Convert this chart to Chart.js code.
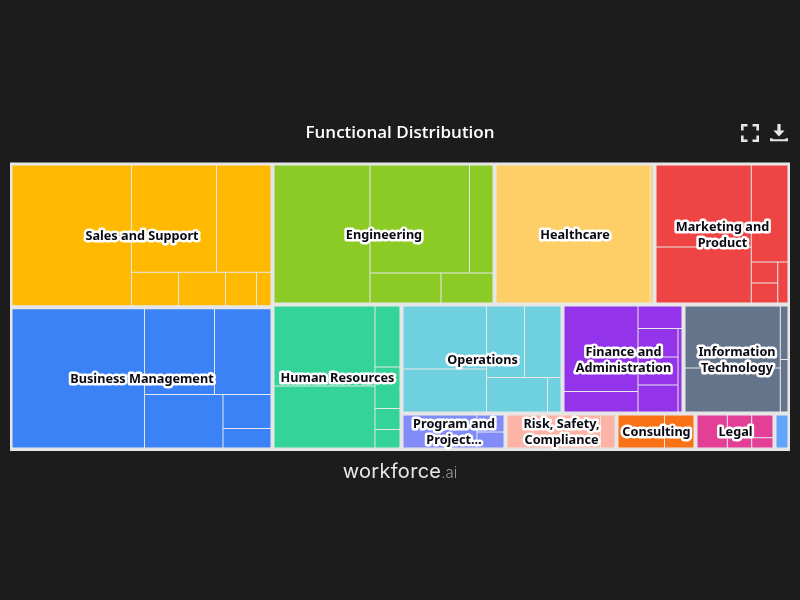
<!DOCTYPE html>
<html>
<head>
<meta charset="utf-8">
<title>Functional Distribution</title>
<script src="https://cdn.jsdelivr.net/npm/chart.js@4/dist/chart.umd.js"></script>
<style>
  html, body { margin: 0; padding: 0; background: #1c1c1c; overflow: hidden; }
  #wrap { position: relative; width: 800px; height: 600px; }
  canvas { display: block; }
  .icon { position: absolute; top: 124px; width: 18px; height: 18px; }
  #logo { position: absolute; left: 0; width: 800px; top: 459px; text-align: center; color: #e8e8e8;
          font: 400 20px Inter, sans-serif; letter-spacing: 0.3px; }
  #logo span { color: #9a9a9a; font-size: 15px; font-weight: 300; letter-spacing: 0; }
</style>
</head>
<body>
<div id="wrap">
  <canvas id="chart" width="800" height="600"></canvas>
  <svg class="icon" style="left:741px" viewBox="0 0 18 18" fill="none" stroke="#e6e6e6" stroke-width="2.6">
    <path d="M6.5 1.3H1.3V6.5M11.5 1.3H16.7V6.5M1.3 11.5V16.7H6.5M16.7 11.5V16.7H11.5"/>
  </svg>
  <svg class="icon" style="left:770px" viewBox="0 0 18 18" fill="#e6e6e6">
    <path d="M7.4 0H10.6V6.5H14.6L9 12.4L3.4 6.5H7.4Z"/>
    <path d="M0 14.2H2.6V15.2H15.4V14.2H18V17.2H0Z"/>
  </svg>
  <div id="logo">workforce<span>.ai</span></div>
</div>
<script>
// データ（画像から読み取った推定値）
const titleText = 'Functional Distribution';
const groupNames = ['Sales and Support', 'Business Management', 'Engineering', 'Healthcare',
    'Marketing and Product', 'Human Resources', 'Operations', 'Finance and Administration',
    'Information Technology', 'Program and Project...', 'Risk, Safety, Compliance',
    'Consulting', 'Legal', 'Other'];
const groupLabelLines = [['Sales and Support'], ['Business Management'], ['Engineering'], ['Healthcare'],
    ['Marketing and', 'Product'], ['Human Resources'], ['Operations'], ['Finance and', 'Administration'],
    ['Information', 'Technology'], ['Program and', 'Project...'], ['Risk, Safety,', 'Compliance'],
    ['Consulting'], ['Legal'], []];

const salesValues = [17376, 9423, 6042, 1624, 1624, 1071, 501];
const businessValues = [19067, 6210, 5012, 4332, 1683, 966];
const engineeringValues = [13721, 11130, 2629, 2206, 1616];
const healthcareValues = [22171, 389];
const marketingValues = [8159, 5572, 3728, 583, 555, 438];
const hrValues = [8447, 6546, 1594, 1085, 549, 484];
const operationsValues = [5512, 3762, 2847, 2735, 2206, 488];
const financeValues = [6672, 1600, 1044, 1202, 1181, 1139, 352];
const itValues = [6251, 4436, 437, 429];
const programValues = [2743, 516, 485];
const riskValues = [3460, 536];
const consultingValues = [1740, 1104];
const legalValues = [1134, 913, 548, 249];
const otherValues = [540];

const groupValues = [salesValues, businessValues, engineeringValues, healthcareValues,
    marketingValues, hrValues, operationsValues, financeValues, itValues,
    programValues, riskValues, consultingValues, legalValues, otherValues];

// 色
const groupColors = ['#ffb900', '#3b82f6', '#8ccb26', '#fecf66', '#ef4444', '#34d399', '#6fd0e0',
    '#9333ea', '#64748b', '#818cf8', '#fdb3a6', '#f97316', '#e43f96', '#60a5fa'];

// 分割の手順: c = 左から列, r = 上から行, 数字 = その中のセル数
const groupPlan = ['c2', 'r3', 'c1', 'r3', 'r5'];
const cellPlans = [
    ['c1', 'r2', 'r4'],
    ['c1', 'r2', 'c1', 'c2'],
    ['c1', 'r2', 'r2'],
    ['c1', 'c1'],
    ['c2', 'r1', 'c2', 'c1'],
    ['c2', 'c4'],
    ['c2', 'r2', 'r2'],
    ['c2', 'r1', 'c3', 'c1'],
    ['c2', 'c2'],
    ['c1', 'c2'],
    ['c1', 'c1'],
    ['c1', 'c1'],
    ['c1', 'c1', 'c2'],
    ['c1']
];

const plotWidth = 779;
const plotHeight = 286;
const groupInset = 1.5;

function sum(list) {
    return list.reduce((a, b) => a + b, 0);
}

// 値の比率で長方形を順番に切り出す
function sliceBox(values, plan, box) {
    let { x0, y0, x1, y1 } = box;
    let rest = sum(values);
    let index = 0;
    const cells = [];
    plan.forEach(step => {
        const count = Number(step.slice(1));
        const items = values.slice(index, index + count);
        const total = sum(items);
        const share = total / rest;
        if (step[0] === 'c') {
            const w = (x1 - x0) * share;
            let y = y0;
            items.forEach(v => {
                const h = (y1 - y0) * v / total;
                cells.push({ x0: x0, x1: x0 + w, y0: y, y1: y + h, v: v });
                y += h;
            });
            x0 += w;
        } else {
            const h = (y1 - y0) * share;
            let x = x0;
            items.forEach(v => {
                const w = (x1 - x0) * v / total;
                cells.push({ x0: x, x1: x + w, y0: y0, y1: y0 + h, v: v });
                x += w;
            });
            y0 += h;
        }
        rest -= total;
        index += count;
    });
    return cells;
}

const groupBoxes = sliceBox(groupValues.map(sum), groupPlan, { x0: 0, y0: 0, x1: plotWidth, y1: plotHeight });

const datasets = groupNames.map((name, i) => {
    const b = groupBoxes[i];
    return {
        label: name,
        parsing: false,
        data: sliceBox(groupValues[i], cellPlans[i], {
            x0: b.x0 + groupInset, y0: b.y0 + groupInset, x1: b.x1 - groupInset, y1: b.y1 - groupInset
        }),
        backgroundColor: groupColors[i],
        borderColor: 'rgba(238, 238, 238, 0.55)',
        borderWidth: 0.5
    };
});

// Chart.js にツリーマップがないので BarElement で長方形を描くコントローラを用意
class TreemapController extends Chart.DatasetController {
    update(mode) {
        const meta = this._cachedMeta;
        this.updateElements(meta.data, 0, meta.data.length, mode);
    }
    updateElements(cells, start, count, mode) {
        const { xScale, yScale } = this._cachedMeta;
        const data = this.getDataset().data;
        for (let i = start; i < start + count; i++) {
            const left = xScale.getPixelForValue(data[i].x0);
            const right = xScale.getPixelForValue(data[i].x1);
            const top = yScale.getPixelForValue(data[i].y0);
            const bottom = yScale.getPixelForValue(data[i].y1);
            this.updateElement(cells[i], i, {
                x: (left + right) / 2,
                y: top,
                base: bottom,
                width: right - left,
                height: bottom - top,
                horizontal: false,
                borderSkipped: {},
                inflateAmount: 0,
                options: this.resolveDataElementOptions(i, mode)
            }, mode);
        }
    }
}
TreemapController.id = 'treemap';
TreemapController.defaults = { dataElementType: 'bar' };
Chart.register(TreemapController);

// 背景の枠
const framePlugin = {
    id: 'frame',
    beforeDatasetsDraw(chart) {
        const { ctx, chartArea: a } = chart;
        ctx.save();
        ctx.fillStyle = '#e6e6e6';
        ctx.fillRect(a.left - 0.5, a.top - 1, a.width + 1, a.height + 2.5);
        ctx.restore();
    }
};

// グループ名（白フチ付き）
const labelPlugin = {
    id: 'groupLabels',
    afterDatasetsDraw(chart) {
        const { ctx, scales: { x, y } } = chart;
        ctx.save();
        ctx.font = 'bold 12.7px "Noto Sans"';
        ctx.textAlign = 'center';
        ctx.textBaseline = 'middle';
        ctx.lineJoin = 'round';
        groupBoxes.forEach((b, i) => {
            const lines = groupLabelLines[i];
            const cx = x.getPixelForValue((b.x0 + b.x1) / 2) + 0.5;
            const cy = y.getPixelForValue((b.y0 + b.y1) / 2) + 1;
            lines.forEach((line, n) => {
                const ly = cy + (n - (lines.length - 1) / 2) * 16;
                ctx.strokeStyle = '#ffffff';
                ctx.lineWidth = 5;
                ctx.strokeText(line, cx, ly);
                ctx.fillStyle = '#0a0a14';
                ctx.fillText(line, cx, ly);
            });
        });
        ctx.restore();
    }
};

new Chart(document.getElementById('chart').getContext('2d'), {
    type: 'treemap',
    data: { datasets: datasets },
    plugins: [framePlugin, labelPlugin],
    options: {
        responsive: false,
        animation: false,
        layout: { padding: { left: 10.5, right: 10.5, top: 0, bottom: 150.5 } },
        scales: {
            x: { type: 'linear', display: false, min: 0, max: plotWidth },
            y: { type: 'linear', display: false, min: 0, max: plotHeight, reverse: true }
        },
        plugins: {
            legend: { display: false },
            tooltip: { enabled: false },
            title: {
                display: true,
                text: titleText,
                color: '#ffffff',
                font: { family: '"Open Sans"', size: 17, weight: '600', lineHeight: 1.2 },
                padding: { top: 122.8, bottom: 20.3 }
            }
        }
    }
});
</script>
</body>
</html>
